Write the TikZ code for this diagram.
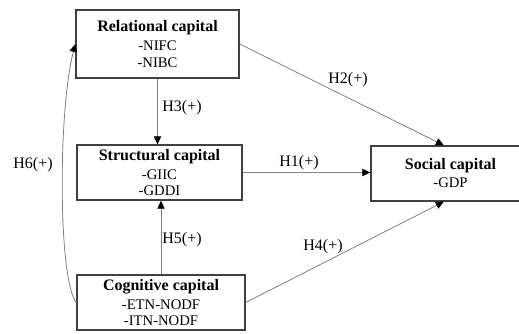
\documentclass[tikz,border=0pt]{standalone}
\usepackage{fontspec}
\setmainfont{Liberation Serif}
\definecolor{boxgray}{RGB}{64, 64, 64}
\definecolor{linkgray}{RGB}{128, 128, 128}
\usetikzlibrary{arrows.meta, positioning}
\tikzstyle{capital} = [draw=boxgray, line width=1pt, fill=white, inner sep=0pt,
                       align=center, font=\fontsize{11}{12.5}\selectfont]
\tikzstyle{link} = [draw=linkgray, line width=0.6pt, -{Triangle[length=6pt, width=5.5pt, black]}]
\tikzstyle{hyp} = [inner sep=0pt, font=\fontsize{12}{14}\selectfont]
\newcommand{\capname}[1]{{\fontsize{12}{14}\selectfont\bfseries #1}}

\begin{document}
\begin{tikzpicture}[x=0.75pt, y=-0.75pt]
                    \useasboundingbox (0, 0) rectangle (519, 333);
                    % the four capitals
                    \node[capital, minimum width=122.25pt, minimum height=51pt] (rel) at (157.5, 44)
                        {\capname{Relational capital}\\[1.75pt]-NIFC\\-NIBC};
                    \node[capital, minimum width=123.75pt, minimum height=41.25pt] (str) at (159.5, 172.5)
                        {\capname{Structural capital}\\[1.75pt]-GIIC\\-GDDI};
                    \node[capital, minimum width=126pt, minimum height=41.25pt] (cog) at (161, 302.5)
                        {\capname{Cognitive capital}\\[1.75pt]-ETN-NODF\\-ITN-NODF};
                    \node[capital, minimum width=119.25pt, minimum height=41.25pt] (soc) at (450.5, 173.5)
                        {\capname{Social capital}\\[1pt]-GDP};
                    % hypotheses
                    \draw[link] (rel.south) -- (rel.south |- str.north);
                    \draw[link] (cog.north) -- (cog.north |- str.south);
                    \draw[link] (str.east) -- (str.east -| soc.west);
                    \draw[link] (rel.east) -- ([xshift=-5pt]soc.north);
                    \draw[link] (cog.east) -- ([xshift=-5pt]soc.south);
                    \draw[link] (cog.west) .. controls (58, 280) and (58, 110) .. (rel.west);
                    \node[hyp] (h1) at (299, 163) {H1(+)};
                    \node[hyp] (h2) at (348, 80) {H2(+)};
                    \node[hyp] (h3) at (182, 108) {H3(+)};
                    \node[hyp] (h4) at (323, 247) {H4(+)};
                    \node[hyp] (h5) at (182, 240) {H5(+)};
                    \node[hyp] (h6) at (33, 165) {H6(+)};
                \end{tikzpicture}
\end{document}
